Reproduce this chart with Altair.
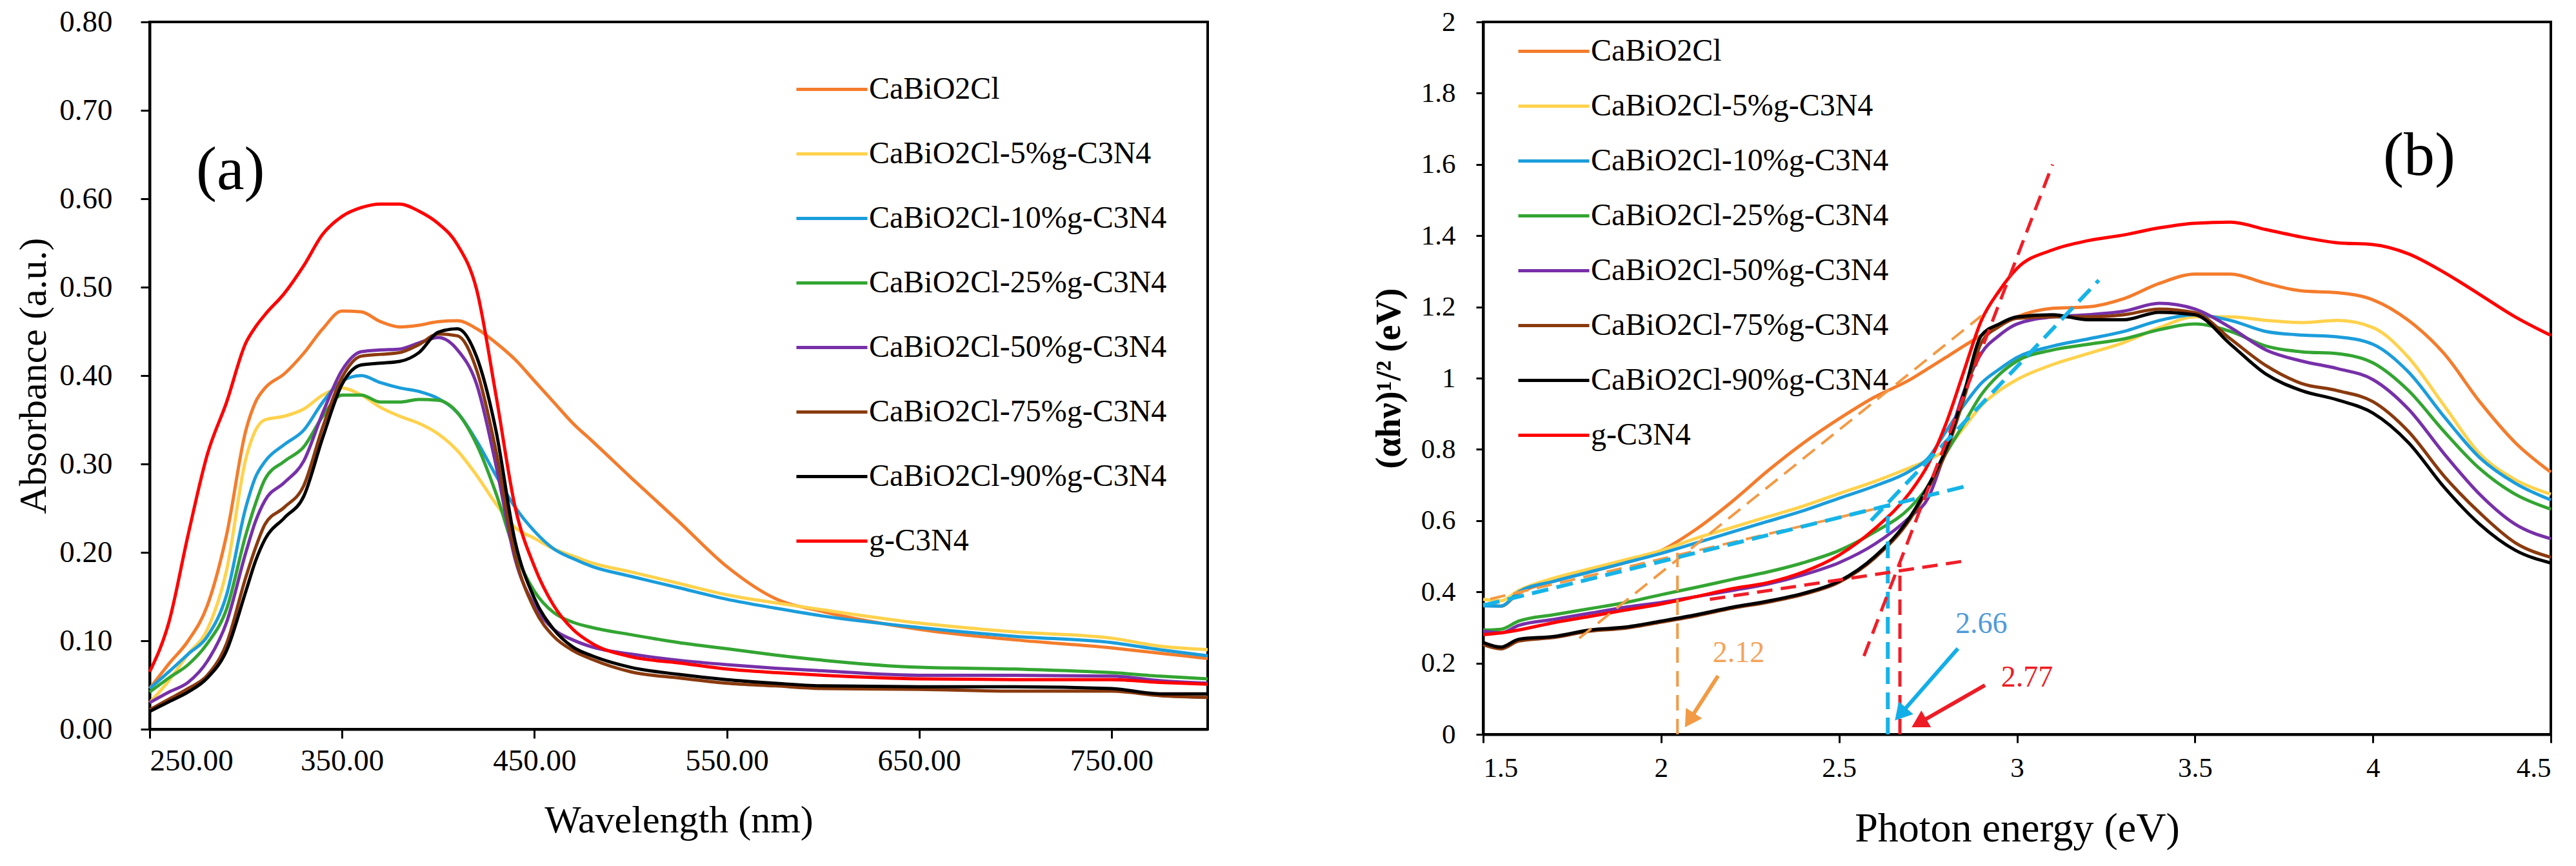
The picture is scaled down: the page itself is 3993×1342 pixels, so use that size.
import math
import altair as alt
import pandas as pd

FONT = "Liberation Serif"

NAMES = ["CaBiO2Cl", "CaBiO2Cl-5%g-C3N4", "CaBiO2Cl-10%g-C3N4", "CaBiO2Cl-25%g-C3N4",
         "CaBiO2Cl-50%g-C3N4", "CaBiO2Cl-75%g-C3N4", "CaBiO2Cl-90%g-C3N4", "g-C3N4"]
COLORS = ["#F47C2C", "#FFD24D", "#1B9DDB", "#33A532", "#7730A8", "#8A3A0E", "#000000", "#FF0000"]

# ---------------- panel (a): absorbance vs wavelength ----------------
WL = [250, 260, 270, 280, 290, 300, 305, 310, 320, 330, 340, 350, 360, 370, 380, 390, 400,
      410, 420, 430, 440, 450, 460, 470, 480, 500, 525, 550, 575, 600, 650, 700, 750, 775, 800]

A_ORANGE = [0.046, 0.074, 0.100, 0.140, 0.220, 0.338, 0.370, 0.386, 0.402, 0.425, 0.453, 0.473,
            0.472, 0.461, 0.455, 0.457, 0.461, 0.462, 0.453, 0.437, 0.418, 0.394, 0.370, 0.346,
            0.326, 0.285, 0.235, 0.184, 0.148, 0.133, 0.113, 0.101, 0.092, 0.086, 0.080]
A_YELLOW = [0.030, 0.055, 0.085, 0.113, 0.180, 0.306, 0.338, 0.350, 0.354, 0.362, 0.378, 0.386,
            0.378, 0.364, 0.354, 0.346, 0.334, 0.315, 0.287, 0.255, 0.228, 0.216, 0.204, 0.196,
            0.188, 0.178, 0.165, 0.152, 0.143, 0.135, 0.120, 0.110, 0.103, 0.094, 0.090]
A_BLUE = [0.046, 0.065, 0.085, 0.105, 0.152, 0.251, 0.285, 0.303, 0.322, 0.338, 0.370, 0.394,
          0.400, 0.392, 0.386, 0.382, 0.374, 0.358, 0.326, 0.287, 0.251, 0.224, 0.204, 0.193,
          0.184, 0.173, 0.160, 0.147, 0.137, 0.128, 0.115, 0.105, 0.098, 0.090, 0.083]
A_GREEN = [0.042, 0.058, 0.073, 0.097, 0.136, 0.220, 0.255, 0.283, 0.303, 0.319, 0.354, 0.378,
           0.378, 0.370, 0.370, 0.373, 0.372, 0.358, 0.322, 0.267, 0.200, 0.156, 0.132, 0.121,
           0.115, 0.107, 0.098, 0.091, 0.084, 0.078, 0.070, 0.068, 0.064, 0.060, 0.057]
A_PURPLE = [0.030, 0.042, 0.053, 0.077, 0.121, 0.200, 0.235, 0.259, 0.279, 0.303, 0.358, 0.406,
            0.427, 0.429, 0.430, 0.437, 0.443, 0.429, 0.390, 0.299, 0.192, 0.140, 0.113, 0.101,
            0.093, 0.085, 0.078, 0.073, 0.069, 0.066, 0.061, 0.061, 0.060, 0.055, 0.052]
A_BROWN = [0.022, 0.034, 0.046, 0.061, 0.097, 0.172, 0.205, 0.232, 0.251, 0.275, 0.342, 0.398,
           0.422, 0.424, 0.426, 0.435, 0.447, 0.445, 0.406, 0.315, 0.196, 0.136, 0.105, 0.089,
           0.079, 0.065, 0.058, 0.052, 0.049, 0.046, 0.045, 0.043, 0.043, 0.038, 0.036]
A_BLACK = [0.020, 0.031, 0.042, 0.058, 0.089, 0.156, 0.190, 0.215, 0.239, 0.263, 0.330, 0.390,
           0.412, 0.414, 0.416, 0.426, 0.449, 0.453, 0.421, 0.338, 0.212, 0.148, 0.113, 0.093,
           0.083, 0.070, 0.062, 0.056, 0.052, 0.049, 0.048, 0.048, 0.046, 0.040, 0.040]
A_RED = [0.065, 0.121, 0.220, 0.311, 0.370, 0.437, 0.455, 0.469, 0.493, 0.524, 0.560, 0.580,
         0.590, 0.594, 0.594, 0.586, 0.572, 0.548, 0.497, 0.378, 0.251, 0.184, 0.140, 0.113,
         0.097, 0.082, 0.075, 0.068, 0.064, 0.061, 0.057, 0.056, 0.056, 0.053, 0.051]

# ---------------- panel (b): Tauc plot ----------------
EV = [1.5, 1.55, 1.6, 1.7, 1.8, 1.9, 2.0, 2.1, 2.2, 2.3, 2.4, 2.5, 2.6, 2.7, 2.75, 2.8, 2.85,
      2.9, 2.95, 3.0, 3.1, 3.2, 3.3, 3.4, 3.5, 3.6, 3.7, 3.8, 3.9, 4.0, 4.1, 4.2, 4.3, 4.4, 4.5]

B_ORANGE = [0.365, 0.360, 0.396, 0.430, 0.456, 0.482, 0.516, 0.577, 0.654, 0.740, 0.818, 0.886,
            0.947, 0.996, 1.027, 1.058, 1.090, 1.120, 1.148, 1.172, 1.196, 1.200, 1.223, 1.266,
            1.292, 1.292, 1.266, 1.245, 1.240, 1.220, 1.162, 1.069, 0.934, 0.819, 0.736]
B_YELLOW = [0.379, 0.375, 0.404, 0.439, 0.465, 0.490, 0.516, 0.551, 0.581, 0.611, 0.641, 0.676,
            0.710, 0.749, 0.770, 0.800, 0.860, 0.923, 0.965, 0.996, 1.038, 1.069, 1.100, 1.142,
            1.172, 1.172, 1.162, 1.156, 1.162, 1.142, 1.058, 0.923, 0.788, 0.715, 0.674]
B_BLUE = [0.361, 0.360, 0.400, 0.430, 0.456, 0.482, 0.508, 0.538, 0.568, 0.598, 0.628, 0.663,
          0.697, 0.740, 0.775, 0.850, 0.923, 0.986, 1.025, 1.058, 1.090, 1.110, 1.131, 1.162,
          1.178, 1.162, 1.131, 1.121, 1.116, 1.095, 1.017, 0.892, 0.777, 0.705, 0.658]
B_GREEN = [0.293, 0.295, 0.318, 0.336, 0.353, 0.370, 0.392, 0.413, 0.435, 0.456, 0.482, 0.516,
           0.568, 0.637, 0.697, 0.788, 0.871, 0.954, 1.010, 1.048, 1.079, 1.095, 1.110, 1.136,
           1.152, 1.131, 1.090, 1.074, 1.069, 1.043, 0.965, 0.850, 0.746, 0.674, 0.632]
B_PURPLE = [0.290, 0.285, 0.306, 0.323, 0.340, 0.357, 0.370, 0.387, 0.404, 0.422, 0.448, 0.482,
            0.534, 0.611, 0.663, 0.800, 0.960, 1.070, 1.120, 1.152, 1.172, 1.178, 1.188, 1.210,
            1.194, 1.142, 1.079, 1.048, 1.027, 0.996, 0.913, 0.788, 0.674, 0.590, 0.549]
B_BROWN = [0.252, 0.240, 0.262, 0.272, 0.290, 0.298, 0.315, 0.333, 0.354, 0.371, 0.393, 0.427,
           0.495, 0.605, 0.690, 0.790, 0.940, 1.100, 1.145, 1.168, 1.172, 1.172, 1.178, 1.194,
           1.184, 1.110, 1.035, 0.985, 0.965, 0.934, 0.850, 0.725, 0.622, 0.538, 0.497]
B_BLACK = [0.258, 0.245, 0.267, 0.275, 0.293, 0.301, 0.318, 0.336, 0.357, 0.374, 0.396, 0.430,
           0.499, 0.611, 0.697, 0.800, 0.954, 1.120, 1.152, 1.172, 1.178, 1.164, 1.164, 1.185,
           1.178, 1.095, 1.011, 0.965, 0.939, 0.902, 0.819, 0.694, 0.590, 0.517, 0.481]
B_RED = [0.280, 0.285, 0.293, 0.314, 0.331, 0.349, 0.366, 0.387, 0.409, 0.426, 0.456, 0.503,
         0.577, 0.680, 0.757, 0.871, 1.017, 1.162, 1.245, 1.308, 1.360, 1.386, 1.402, 1.422,
         1.435, 1.438, 1.417, 1.396, 1.380, 1.375, 1.349, 1.297, 1.235, 1.172, 1.120]

# tangent / extrapolation dashed segments in panel (b): (x1, y1, x2, y2)
DASH_ORANGE = [(1.77, 0.27, 2.90, 1.175), (1.52, 0.38, 2.61, 0.635), (2.046, 0.0, 2.046, 0.51)]
DASH_BLUE = [(1.50, 0.362, 2.85, 0.695), (2.59, 0.60, 3.23, 1.275), (2.637, 0.0, 2.637, 0.645)]
DASH_RED = [(2.57, 0.22, 3.10, 1.60), (2.137, 0.379, 2.855, 0.487), (2.671, 0.0, 2.671, 0.48)]

# band-gap labels (text, x, y) and arrows (tail x, tail y, head x, head y)
GAP_LABELS = ["2.12", "2.66", "2.77"]
GAP_LABEL_X = [2.218, 2.90, 3.028]
GAP_LABEL_Y = [0.228, 0.31, 0.159]
GAP_LABEL_COLORS = ["#F5A35A", "#4F9BD9", "#EE1C25"]
ARROWS = [(2.16, 0.164, 2.067, 0.02), (2.834, 0.241, 2.657, 0.039), (2.91, 0.138, 2.704, 0.02)]
ARROW_COLORS = ["#F29B44", "#12AEE8", "#EE1C25"]
DASH_COLORS = ["#F39A45", "#15B4E8", "#F01E28"]

WA, HA = 1640, 1096
WB, HB = 1655, 1104


def long_df(xs, lists, xname, yname):
    rows = []
    for name, vals in zip(NAMES, lists):
        assert len(vals) == len(xs), name
        for x, v in zip(xs, vals):
            rows.append({xname: x, yname: v, "series": name})
    return pd.DataFrame(rows)


df_a = long_df(WL, [A_ORANGE, A_YELLOW, A_BLUE, A_GREEN, A_PURPLE, A_BROWN, A_BLACK, A_RED], "wl", "ab")
df_b = long_df(EV, [B_ORANGE, B_YELLOW, B_BLUE, B_GREEN, B_PURPLE, B_BROWN, B_BLACK, B_RED], "ev", "th")


def legend(lx, ly, rowpad):
    return alt.Legend(orient="none", legendX=lx, legendY=ly, title=None, symbolType="stroke",
                      symbolSize=12100, symbolStrokeWidth=5, labelFont=FONT, labelFontSize=48,
                      labelColor="black", rowPadding=rowpad, labelOffset=0, padding=0,
                      labelLimit=0)


# ---------- panel a ----------
xa = alt.X("wl:Q", scale=alt.Scale(domain=[250, 800], nice=False, zero=False),
           axis=alt.Axis(values=[250, 350, 450, 550, 650, 750], format=".2f", title="Wavelength (nm)",
                         labelFontSize=47, titleFontSize=60, tickSize=14, labelPadding=12,
                         titlePadding=40))
ya = alt.Y("ab:Q", scale=alt.Scale(domain=[0, 0.8], nice=False),
           axis=alt.Axis(values=[0, 0.1, 0.2, 0.3, 0.4, 0.5, 0.6, 0.7, 0.8], format=".2f",
                         title="Absorbance (a.u.)", labelFontSize=47, titleFontSize=60,
                         tickSize=14, labelPadding=44, titlePadding=8))

lines_a = alt.Chart(df_a).mark_line(strokeWidth=5, interpolate="monotone").encode(
    x=xa, y=ya,
    color=alt.Color("series:N", scale=alt.Scale(domain=NAMES, range=COLORS),
                    legend=legend(1000, 47, 18)))

tag_a = alt.Chart(pd.DataFrame({"x": [292], "y": [0.632], "t": ["(a)"]})).mark_text(
    font=FONT, fontSize=96, color="black").encode(x="x:Q", y="y:Q", text="t:N")

panel_a = alt.layer(lines_a, tag_a).properties(width=WA, height=HA)

# ---------- panel b ----------
xb = alt.X("ev:Q", scale=alt.Scale(domain=[1.5, 4.5], nice=False, zero=False),
           axis=alt.Axis(values=[1.5, 2, 2.5, 3, 3.5, 4, 4.5], format="~g", title="Photon energy (eV)",
                         labelFontSize=43, titleFontSize=64, tickSize=13, labelPadding=18,
                         titlePadding=40))
yb = alt.Y("th:Q", scale=alt.Scale(domain=[0, 2], nice=False),
           axis=alt.Axis(values=[0, 0.2, 0.4, 0.6, 0.8, 1, 1.2, 1.4, 1.6, 1.8, 2], format="~g",
                         title="(αhν)¹/² (eV)", labelFontSize=43, titleFontSize=54,
                         titleFontWeight="bold", tickSize=11, labelPadding=32, titlePadding=22))

lines_b = alt.Chart(df_b).mark_line(strokeWidth=5, interpolate="monotone").encode(
    x=xb, y=yb,
    color=alt.Color("series:N", scale=alt.Scale(domain=NAMES, range=COLORS),
                    legend=legend(52, -12, 3)))

layers_b = [lines_b]

for segs, col, sw, dash in [(DASH_ORANGE, DASH_COLORS[0], 4, [24, 13]),
                            (DASH_BLUE, DASH_COLORS[1], 6, [26, 13]),
                            (DASH_RED, DASH_COLORS[2], 5, [24, 13])]:
    rows = []
    for i, (x1, y1, x2, y2) in enumerate(segs):
        rows.append({"seg": i, "k": 0, "ev": x1, "th": y1})
        rows.append({"seg": i, "k": 1, "ev": x2, "th": y2})
    layers_b.append(alt.Chart(pd.DataFrame(rows)).mark_line(
        color=col, strokeWidth=sw, strokeDash=dash).encode(
        x="ev:Q", y="th:Q", detail="seg:N", order="k:Q"))

PXX = WB / 3.0
PXY = HB / 2.0
HEAD = 900
TIP = math.sqrt(HEAD) / 2 * math.sqrt(3) / 2
for (tx, ty, hx, hy), col in zip(ARROWS, ARROW_COLORS):
    dxp = (hx - tx) * PXX
    dyp = (hy - ty) * PXY
    ln = math.hypot(dxp, dyp)
    ux, uy = dxp / ln, dyp / ln
    cx = hx - ux * TIP / PXX
    cy = hy - uy * TIP / PXY
    ang = math.degrees(math.atan2(dxp, dyp)) % 360
    layers_b.append(alt.Chart(pd.DataFrame({"x1": [tx], "y1": [ty], "x2": [cx], "y2": [cy]})).mark_rule(
        color=col, strokeWidth=6).encode(x="x1:Q", y="y1:Q", x2="x2:Q", y2="y2:Q"))
    layers_b.append(alt.Chart(pd.DataFrame({"x": [cx], "y": [cy]})).mark_point(
        shape="triangle-up", filled=True, size=HEAD, color=col, opacity=1, angle=ang).encode(
        x="x:Q", y="y:Q"))

for t, x, y, c in zip(GAP_LABELS, GAP_LABEL_X, GAP_LABEL_Y, GAP_LABEL_COLORS):
    layers_b.append(alt.Chart(pd.DataFrame({"x": [x], "y": [y], "t": [t]})).mark_text(
        font=FONT, fontSize=46, color=c).encode(x="x:Q", y="y:Q", text="t:N"))

layers_b.append(alt.Chart(pd.DataFrame({"x": [4.13], "y": [1.623], "t": ["(b)"]})).mark_text(
    font=FONT, fontSize=96, color="black").encode(x="x:Q", y="y:Q", text="t:N"))

panel_b = alt.layer(*layers_b).properties(width=WB, height=HB)

chart = alt.hconcat(panel_a, panel_b, spacing=240).resolve_scale(
    x="independent", y="independent", color="independent"
).properties(
    padding={"left": 12, "top": 0, "right": 2, "bottom": 2}
).configure(font=FONT).configure_view(
    stroke="black", strokeWidth=4
).configure_axis(
    domainColor="black", domainWidth=4, tickColor="black", tickWidth=3, grid=False,
    labelFont=FONT, labelColor="black", titleFont=FONT, titleColor="black",
    titleFontWeight="normal"
)

chart.save("out.html", embed_options={"renderer": "svg", "actions": False})
